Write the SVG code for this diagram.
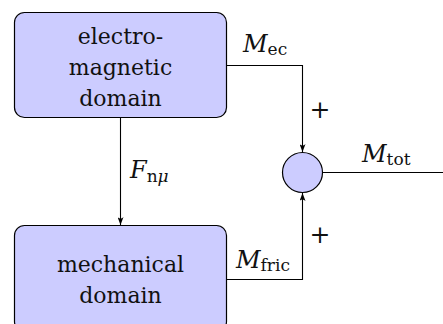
<svg xmlns="http://www.w3.org/2000/svg" width="443" height="324" viewBox="0 0 443 324">
  <defs>
    <style>
      .box { fill: #ccccff; stroke: #000; stroke-width: 1.2; }
      .sum { fill: #ccccff; stroke: #000; stroke-width: 1.2; }
      .wire { fill: none; stroke: #000; stroke-width: 1.1; }
      text { font-family: "DejaVu Serif", serif; fill: #111; }
      .lbl { font-size: 22px; text-anchor: middle; }
      .math { font-size: 24px; }
      .sub { font-size: 17px; font-style: normal; }
      .it { font-style: italic; }
      .plus { font-size: 25px; text-anchor: middle; }
    </style>
    <marker id="arr" viewBox="0 0 8 6" refX="8" refY="3" markerWidth="8" markerHeight="6" markerUnits="userSpaceOnUse" orient="auto">
      <path d="M0,0 Q3,3 0,6 L8,3 Z" fill="#000"/>
    </marker>
  </defs>

  <g id="connectors">
    <polyline class="wire" points="227,65.5 302.5,65.5 302.5,152" marker-end="url(#arr)"/>
    <polyline class="wire" points="227,279.5 302.5,279.5 302.5,193" marker-end="url(#arr)"/>
    <line class="wire" x1="120.5" y1="118" x2="120.5" y2="225" marker-end="url(#arr)"/>
    <line class="wire" x1="322.5" y1="172.5" x2="443" y2="172.5"/>
    <text class="math" x="243" y="52"><tspan class="it">M</tspan><tspan class="sub" dy="3">ec</tspan></text>
    <text class="math" x="236" y="268"><tspan class="it">M</tspan><tspan class="sub" dy="3">fric</tspan></text>
    <text class="math" x="362" y="162"><tspan class="it">M</tspan><tspan class="sub" dy="3">tot</tspan></text>
    <text class="math" x="130" y="178"><tspan class="it">F</tspan><tspan class="sub" dy="4">n</tspan><tspan class="sub it">μ</tspan></text>
    <text class="plus" x="320" y="118">+</text>
    <text class="plus" x="320" y="243">+</text>
  </g>

  <g id="electromagnetic">
    <rect class="box" x="14.5" y="12.5" width="212" height="105" rx="10"/>
    <text class="lbl" x="120.5" y="44">electro-</text>
    <text class="lbl" x="120.5" y="75">magnetic</text>
    <text class="lbl" x="120.5" y="106">domain</text>
  </g>

  <g id="mechanical">
    <rect class="box" x="14.5" y="225.5" width="212" height="106" rx="10"/>
    <text class="lbl" x="120.5" y="272">mechanical</text>
    <text class="lbl" x="120.5" y="303">domain</text>
  </g>

  <g id="sum">
    <circle class="sum" cx="302.5" cy="172.5" r="20"/>
  </g>
</svg>
